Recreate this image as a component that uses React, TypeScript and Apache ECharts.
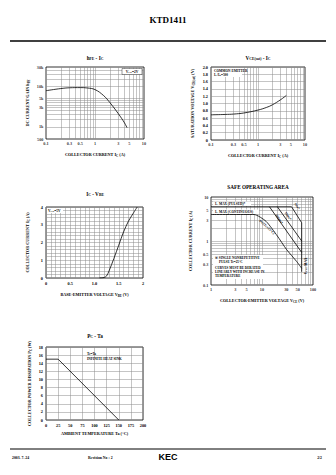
import React, { useEffect, useRef } from "react";
import * as echarts from "echarts";

// ---- data ----
const hfeCurrent = [0.1, 0.2, 0.3, 0.5, 0.7, 1, 1.5, 2, 3, 4, 4.5];
const hfeGain = [7800, 8800, 9200, 9300, 9100, 8300, 5900, 4000, 2100, 1250, 950];
const satCurrent = [0.1, 0.2, 0.3, 0.5, 1, 1.5, 2, 3, 4];
const satVoltage = [0.69, 0.7, 0.71, 0.74, 0.82, 0.89, 0.96, 1.1, 1.22];
const vbeVoltage = [1.1, 1.2, 1.25, 1.3, 1.4, 1.5, 1.6, 1.7, 1.8, 1.88];
const vbeCurrent = [0, 0.03, 0.12, 0.4, 1.1, 1.85, 2.6, 3.2, 3.65, 4.0];
const pcTemp = [0, 25, 150];
const pcPower = [15, 15, 0];
const soaPulsedV = [1, 38];
const soaPulsedI = [6, 6];
const soaDcV = [1, 7, 12, 20, 30, 48, 60];
const soaDcI = [4, 4, 2.8, 1.3, 0.65, 0.34, 0.24];
const soa1msV = [38, 60];
const soa1msI = [6, 2.6];
const soa10msV = [20, 60];
const soa10msI = [6, 1.0];
const soa100msV = [14, 60];
const soa100msI = [6, 0.55];
const soaVceoV = [60, 60];
const soaVceoI = [2.6, 0.2];

// tick labels
const currentTicks = [0.1, 0.3, 0.5, 1, 3, 5, 10];
const hfeTicks = [500, 1000, 3000, 5000, 10000, 30000];
const soaVTicks = [1, 3, 5, 10, 30, 50, 100];
const soaITicks = [0.1, 0.3, 0.5, 1, 3, 5, 10];

const FONT = "'Liberation Serif', 'Times New Roman', serif";

function logGrid(min: number, max: number) {
  const out: number[] = [];
  for (let d = min; d < max; d *= 10) {
    for (let k = 1; k <= 9; k++) {
      const v = +(d * k).toPrecision(6);
      if (v > min && v < max) out.push(v);
    }
  }
  return out;
}

function rich(fs: number) {
  return {
    n: { fontSize: fs, fontFamily: FONT, fontWeight: "bold", color: "#000" },
    s: { fontSize: fs * 0.72, fontFamily: FONT, fontWeight: "bold", color: "#000", padding: [fs * 0.45, 0, 0, 0] },
  };
}
function fmt(t: string) {
  return t
    .split(/(_\{[^}]*\})/)
    .filter(Boolean)
    .map((p) => (p.startsWith("_{") ? `{s|${p.slice(2, -1)}}` : `{n|${p}}`))
    .join("");
}

const GRID_LINE = { color: "#8a8a8a", width: 0.5, type: "solid" as const };
const TICK_FS = 4.3;
const NAME_FS = 4.2;

function txt(x: number, y: number, text: string, fs: number, opts: any = {}) {
  return {
    type: "text",
    x,
    y,
    rotation: opts.rotation || 0,
    style: {
      text: fmt(text),
      rich: rich(fs),
      fontSize: fs,
      fontFamily: FONT,
      fontWeight: "bold",
      fill: "#000",
      align: opts.align || "center",
      verticalAlign: opts.va || "middle",
      backgroundColor: opts.bg,
    },
    z: 10,
  };
}

function tickSeries(xi: number, data: number[][], pos: string, f: (v: number[]) => string, markLineData?: any[]) {
  return {
    type: "scatter",
    xAxisIndex: xi,
    yAxisIndex: xi,
    data,
    symbolSize: 0.1,
    clip: false,
    silent: true,
    itemStyle: { color: "rgba(0,0,0,0)" },
    label: {
      show: true,
      position: pos,
      distance: 2.5,
      formatter: (p: any) => f(p.value),
      fontSize: TICK_FS,
      fontFamily: FONT,
      fontWeight: "bold",
      color: "#000",
    },
    markLine: markLineData
      ? {
          silent: true,
          symbol: ["none", "none"],
          label: { show: false },
          lineStyle: GRID_LINE,
          data: markLineData,
        }
      : undefined,
  };
}

function curve(xi: number, xs: number[], ys: number[], smooth: number | boolean = false) {
  return {
    type: "line",
    xAxisIndex: xi,
    yAxisIndex: xi,
    data: xs.map((x, i) => [x, ys[i]]),
    symbol: "none",
    smooth,
    lineStyle: { color: "#000", width: 0.8 },
    z: 5,
  };
}

const numLabel = (v: number) => String(v);
const kLabel = (v: number) => (v >= 1000 ? v / 1000 + "k" : String(v));

function axisName(name: string, gap: number) {
  return {
    name: fmt(name),
    nameLocation: "middle",
    nameGap: gap,
    nameTextStyle: { rich: rich(NAME_FS), fontSize: NAME_FS, fontFamily: FONT, fontWeight: "bold", color: "#000" },
  };
}

function logAxis(gi: number, min: number, max: number, name: string, gap: number) {
  return {
    type: "log",
    gridIndex: gi,
    min,
    max,
    logBase: 10,
    axisLabel: { show: false },
    axisTick: { show: false },
    axisLine: { show: false },
    splitLine: { show: false },
    ...axisName(name, gap),
  };
}

function valAxis(gi: number, min: number, max: number, interval: number, name: string, gap: number, minor = 0, f?: (v: number) => string) {
  return {
    type: "value",
    gridIndex: gi,
    min,
    max,
    interval,
    axisLabel: {
      fontSize: TICK_FS,
      fontFamily: FONT,
      fontWeight: "bold",
      color: "#000",
      margin: 3,
      formatter: f,
    },
    axisTick: { show: false },
    axisLine: { show: false },
    splitLine: { show: true, lineStyle: GRID_LINE },
    minorTick: { show: false, splitNumber: minor || 5 },
    minorSplitLine: { show: minor > 0, lineStyle: GRID_LINE },
    ...axisName(name, gap),
  };
}

const grids = [
  { left: 46, top: 67, width: 98, height: 72 },
  { left: 211, top: 67, width: 94, height: 73 },
  { left: 46, top: 207, width: 97, height: 71 },
  { left: 211, top: 197, width: 102, height: 88 },
  { left: 46, top: 347, width: 97, height: 73 },
].map((g) => ({ ...g, show: true, borderColor: "#000", borderWidth: 0.8, backgroundColor: "transparent" }));

const option: any = {
  animation: false,
  grid: grids,
  xAxis: [
    logAxis(0, 0.1, 10, "COLLECTOR CURRENT I_{C} (A)", 13),
    logAxis(1, 0.1, 10, "COLLECTOR CURRENT I_{C} (A)", 13),
    valAxis(2, 0, 2, 0.5, "BASE-EMITTER VOLTAGE V_{BE} (V)", 14, 5, (v) => (v === 0 || v === 2 ? String(v) : v.toFixed(1))),
    logAxis(3, 1, 100, "COLLECTOR-EMITTER VOLTAGE V_{CE} (V)", 13),
    valAxis(4, 0, 200, 25, "AMBIENT TEMPERATURE Ta (°C)", 11),
  ],
  yAxis: [
    logAxis(0, 500, 30000, "DC CURRENT GAIN h_{FE}", 16),
    valAxis(1, 0, 2, 0.2, "SATURATION VOLTAGE V_{CE(sat)} (V)", 16, 0, (v) => (v === 0 ? "0" : v.toFixed(1))),
    valAxis(2, 0, 4, 1, "COLLECTOR CURRENT I_{C} (A)", 16, 5),
    logAxis(3, 0.1, 10, "COLLECTOR CURRENT I_{C} (A)", 18),
    valAxis(4, 0, 18, 2, "COLLECTOR POWER DISSIPATION P_{C} (W)", 14),
  ],
  series: [
    // chart 1
    tickSeries(0, currentTicks.map((v) => [v, 500]), "bottom", (v) => numLabel(v[0]), [
      ...logGrid(0.1, 10).map((v) => ({ xAxis: v })),
      ...logGrid(500, 30000).map((v) => ({ yAxis: v })),
    ]),
    tickSeries(0, hfeTicks.map((v) => [0.1, v]), "left", (v) => kLabel(v[1])),
    curve(0, hfeCurrent, hfeGain, 0.4),
    // chart 2
    tickSeries(1, currentTicks.map((v) => [v, 0]), "bottom", (v) => numLabel(v[0]), logGrid(0.1, 10).map((v) => ({ xAxis: v }))),
    curve(1, satCurrent, satVoltage, 0.4),
    // chart 3
    curve(2, vbeVoltage, vbeCurrent, 0.3),
    // chart 4
    tickSeries(3, soaVTicks.map((v) => [v, 0.1]), "bottom", (v) => numLabel(v[0]), [
      ...logGrid(1, 100).map((v) => ({ xAxis: v })),
      ...logGrid(0.1, 10).map((v) => ({ yAxis: v })),
    ]),
    tickSeries(3, soaITicks.map((v) => [1, v]), "left", (v) => numLabel(v[1])),
    curve(3, soaPulsedV, soaPulsedI),
    curve(3, soaDcV, soaDcI, 0.2),
    curve(3, soa1msV, soa1msI),
    curve(3, soa10msV, soa10msI),
    curve(3, soa100msV, soa100msI),
    curve(3, soaVceoV, soaVceoI),
    // chart 5
    curve(4, pcTemp, pcPower),
  ],
  graphic: [
    txt(168, 20, "KTD1411", 9),
    { type: "line", shape: { x1: 10, y1: 41, x2: 326, y2: 41 }, style: { stroke: "#000", lineWidth: 1.4 } },
    txt(95, 58, "h_{FE} - I_{C}", 5.2),
    txt(258, 58, "V_{CE(sat)} - I_{C}", 5.2),
    txt(95, 194, "I_{C} - V_{BE}", 5.2),
    txt(258, 187, "SAFE OPERATING AREA", 5.2),
    txt(95, 336, "P_{C} - Ta", 5.2),
    // chart1 annotation
    { type: "rect", shape: { x: 122, y: 68.5, width: 20, height: 6 }, style: { fill: "#fff", stroke: "#000", lineWidth: 0.4 }, z: 9 },
    txt(132, 71.5, "V_{CE}=2V", 3.6),
    // chart2 annotation
    { type: "rect", shape: { x: 212, y: 68, width: 30, height: 9 }, style: { fill: "#fff" }, z: 9 },
    txt(214, 70.5, "COMMON EMITTER", 3.4, { align: "left" }),
    txt(214, 74.5, "I_{C}/I_{B}=500", 3.4, { align: "left" }),
    // chart3 annotation
    { type: "rect", shape: { x: 47, y: 208, width: 16, height: 5 }, style: { fill: "#fff" }, z: 9 },
    txt(48, 210.8, "V_{CE}=5V", 3.6, { align: "left" }),
    // SOA annotations
    { type: "rect", shape: { x: 213, y: 201.5, width: 38, height: 4.5 }, style: { fill: "#fff" }, z: 9 },
    txt(215, 203.8, "I_{C} MAX (PULSED)*", 3.4, { align: "left" }),
    { type: "rect", shape: { x: 213, y: 209.5, width: 46, height: 4.5 }, style: { fill: "#fff" }, z: 9 },
    txt(215, 211.8, "I_{C} MAX (CONTINUOUS)", 3.4, { align: "left" }),
    txt(297, 206, "1ms*", 3.4, { rotation: -1.0 }),
    txt(288, 216, "10ms*", 3.4, { rotation: -0.95 }),
    txt(279, 219, "100ms*", 3.4, { rotation: -0.95 }),
    txt(267, 227, "DC(Tc=25°C)", 3.4, { rotation: -0.75 }),
    txt(306, 266, "V_{CEO} MAX", 3.4, { rotation: Math.PI / 2 }),
    { type: "rect", shape: { x: 213, y: 255, width: 50, height: 24 }, style: { fill: "#fff" }, z: 9 },
    txt(215, 258, "※ SINGLE NONREPETITIVE", 3.3, { align: "left" }),
    txt(219, 262, "PULSE Tc=25°C", 3.3, { align: "left" }),
    txt(215, 268, "CURVES MUST BE DERATED", 3.3, { align: "left" }),
    txt(215, 272, "LINEARLY WITH INCREASE IN", 3.3, { align: "left" }),
    txt(215, 276, "TEMPERATURE", 3.3, { align: "left" }),
    // PC annotation
    txt(87, 354, "Tc=Ta", 3.4, { align: "left" }),
    txt(87, 359, "INFINITE HEAT SINK", 3.4, { align: "left" }),
    // footer
    { type: "line", shape: { x1: 10, y1: 449, x2: 326, y2: 449 }, style: { stroke: "#000", lineWidth: 1 } },
    txt(12, 458, "2003. 7. 24", 3.8, { align: "left" }),
    txt(88, 458, "Revision No : 2", 3.8, { align: "left" }),
    {
      type: "text",
      x: 168,
      y: 457,
      style: { text: "KEC", fontSize: 9, fontFamily: "'Liberation Sans', Arial, sans-serif", fontWeight: "bold", fill: "#000", align: "center", verticalAlign: "middle" },
    },
    txt(322, 458, "2/2", 3.8, { align: "right" }),
  ],
};

export default function App() {
  const ref = useRef<HTMLDivElement>(null);
  useEffect(() => {
    if (!ref.current) return;
    const chart = echarts.init(ref.current, undefined, { renderer: "svg" });
    chart.setOption(option);
    return () => chart.dispose();
  }, []);
  return (
    <div
      ref={ref}
      style={{ position: "absolute", left: 0, top: 0, width: 336, height: 475, background: "#fff" }}
    />
  );
}
